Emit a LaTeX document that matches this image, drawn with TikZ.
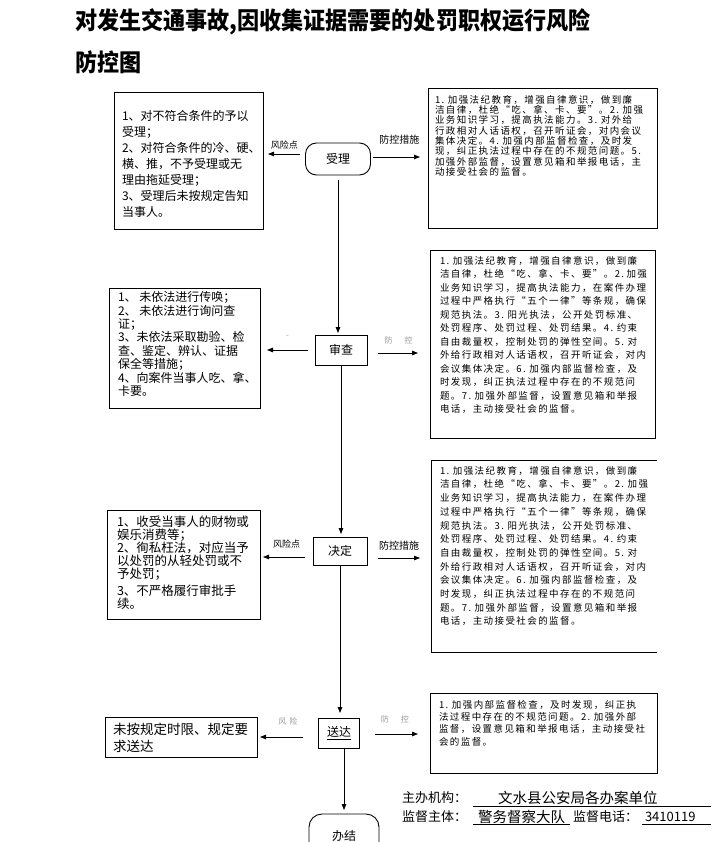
\documentclass[tikz,border=0pt]{standalone}
\usepackage{fontspec}
\usepackage{graphicx}
\setmainfont{Noto Sans CJK SC}
\newfontfamily\ctrlfont{Noto Sans CJK SC}[LetterSpace=15]
\usetikzlibrary{arrows.meta}
\newcommand{\boxtxt}[4]{\parbox[t][#1][t]{#2}{\vspace*{#3}\raggedright #4}}

\begin{document}
\begin{tikzpicture}[x=1pt,y=-1pt,>={Triangle[length=6pt,width=4.5pt]},
  every node/.style={inner sep=0pt,outer sep=0pt},
  riskbox/.style={draw,line width=0.9pt,anchor=north west,inner ysep=0pt},
  openbox/.style={anchor=north west,inner ysep=0pt},
  stepbox/.style={draw,line width=0.9pt,font=\fontsize{12}{14}\selectfont},
  endbox/.style={stepbox,rounded corners=11pt},
  flow/.style={->,line width=0.8pt},
  lbl/.style={font=\fontsize{9}{10}\selectfont},
  faint/.style={text=black!40,font=\fontsize{8}{9}\selectfont},
  foot/.style={font=\fontsize{13}{15}\selectfont}]
  \useasboundingbox (0,0) rectangle (720,842);
  % title
  \node[anchor=west,font=\fontsize{24}{28}\selectfont\bfseries] (title) at (75,22)
        {\scalebox{0.92}[1]{对发生交通事故,因收集证据需要的处罚职权运行风险}};
  \node[anchor=west,font=\fontsize{24}{28}\selectfont\bfseries] (title2) at (75,62)
        {\scalebox{0.92}[1]{防控图}};
  % steps of the procedure
  \node[endbox,minimum width=65pt,minimum height=32pt] (s1) at (338,159) {受理};
  \node[stepbox,minimum width=52pt,minimum height=30pt] (s2) at (341,350) {审查};
  \node[stepbox,minimum width=54pt,minimum height=28pt] (s3) at (340,551) {决定};
  \node[stepbox,minimum width=41pt,minimum height=30pt] (s4) at (339,733) {\underline{送达}};
  \node[endbox,minimum width=70pt,minimum height=44pt,rounded corners=13pt] (s5) at (344,836) {办结};
  % risk points
  \node[riskbox,inner xsep=8pt,font=\fontsize{12}{16}\selectfont] (r1) at (114,92)
        {\boxtxt{137pt}{133pt}{18.6pt}{1、对不符合条件的予以\\受理；\\2、对符合条件的冷、硬、\\横、推，不予受理或无\\理由拖延受理；\\3、受理后未按规定告知\\当事人。}};
  \node[riskbox,inner xsep=9pt,font=\fontsize{12}{13.4}\selectfont] (r2) at (109,288)
        {\boxtxt{120pt}{133pt}{3.6pt}{1、 未依法进行传唤；\\2、 未依法进行询问查\\证；\\3、未依法采取勘验、检\\查、鉴定、辨认、证据\\保全等措施；\\4、向案件当事人吃、拿、\\卡要。}};
  \node[riskbox,inner xsep=10pt,font=\fontsize{12.5}{12.8}\selectfont] (r3) at (107,510)
        {\boxtxt{109pt}{133pt}{6.4pt}{1、收受当事人的财物或\\娱乐消费等；\\2、徇私枉法，对应当予\\以处罚的从轻处罚或不\\予处罚；\\[5pt]3、不严格履行审批手\\续。}};
  \node[riskbox,inner xsep=8pt,font=\fontsize{13.5}{17}\selectfont] (r4) at (105,717)
        {\boxtxt{40pt}{136pt}{5.8pt}{未按规定时限、规定要\\求送达}};
  % control measures
  \node[riskbox,inner xsep=7pt,font=\ctrlfont\fontsize{9.5}{10.3}\selectfont] (c1) at (428,88)
        {\boxtxt{140pt}{215pt}{7.2pt}{1.~加强法纪教育，增强自律意识，做到廉\\洁自律，杜绝“吃、拿、卡、要”。2.~加强\\业务知识学习，提高执法能力。3.~对外给\\行政相对人话语权，召开听证会，对内会议\\集体决定。4.~加强内部监督检查，及时发\\现，纠正执法过程中存在的不规范问题。5.\\加强外部监督，设置意见箱和举报电话，主\\动接受社会的监督。}};
  \node[riskbox,inner xsep=10pt,font=\ctrlfont\fontsize{9.5}{13.5}\selectfont] (c2) at (430,250)
        {\boxtxt{188pt}{205pt}{6.2pt}{1.~加强法纪教育，增强自律意识，做到廉\\洁自律，杜绝“吃、拿、卡、要”。2.~加强\\业务知识学习，提高执法能力，在案件办理\\过程中严格执行“五个一律”等条规，确保\\规范执法。3.~阳光执法，公开处罚标准、\\处罚程序、处罚过程、处罚结果。4.~约束\\自由裁量权，控制处罚的弹性空间。5.~对\\外给行政相对人话语权，召开听证会，对内\\会议集体决定。6.~加强内部监督检查，及\\时发现，纠正执法过程中存在的不规范问\\题。7.~加强外部监督，设置意见箱和举报\\电话，主动接受社会的监督。}};
  \node[openbox,inner xsep=9pt,font=\ctrlfont\fontsize{9.5}{13.7}\selectfont] (c3) at (431,460)
        {\boxtxt{192pt}{208pt}{6.2pt}{1.~加强法纪教育，增强自律意识，做到廉\\洁自律，杜绝“吃、拿、卡、要”。2.~加强\\业务知识学习，提高执法能力，在案件办理\\过程中严格执行“五个一律”等条规，确保\\规范执法。3.~阳光执法，公开处罚标准、\\处罚程序、处罚过程、处罚结果。4.~约束\\自由裁量权，控制处罚的弹性空间。5.~对\\外给行政相对人话语权，召开听证会，对内\\会议集体决定。6.~加强内部监督检查，及\\时发现，纠正执法过程中存在的不规范问\\题。7.~加强外部监督，设置意见箱和举报\\电话，主动接受社会的监督。}};
  \draw[line width=0.9pt] (c3.north east) -- (c3.north west) -- (c3.south west) -- (c3.south east);
  \node[riskbox,inner xsep=9pt,font=\ctrlfont\fontsize{9.5}{12.3}\selectfont] (c4) at (430,693)
        {\boxtxt{80pt}{209pt}{7.2pt}{1.~加强内部监督检查，及时发现，纠正执\\法过程中存在的不规范问题。2.~加强外部\\监督，设置意见箱和举报电话，主动接受社\\会的监督。}};
  % main flow
  \draw[flow,shorten <=5pt,shorten >=2pt] (s1.south) -- (s1.south |- s2.north);
  \draw[flow,shorten >=3pt] (s2.south) -- (s2.south |- s3.north);
  \draw[flow,shorten >=5pt] (s3.south) -- (s3.south |- s4.north);
  \draw[flow,shorten >=4pt] (s4.south -| s5.north) -- (s5.north);
  % risk / control arrows
  \draw[flow,shorten <=5.5pt,shorten >=5pt] ([yshift=5pt]s1.west) -- ([yshift=5pt]s1.west -| r1.east)
        node[lbl,midway,above=4.5pt] (l1) {风险点};
  \draw[flow,shorten <=2.5pt,shorten >=8pt] ([yshift=2pt]s1.east) -- ([yshift=2pt]s1.east -| c1.west)
        node[lbl,midway,above=13pt,font=\fontsize{10}{11}\selectfont] (m1) {防控措施};
  \draw[flow,shorten <=7pt,shorten >=7pt] (s2.west) -- (s2.west -| r2.east)
        node[faint,midway,above=12pt] (l2) {-};
  \draw[flow,shorten <=11pt,shorten >=12pt] ([yshift=-3pt]s2.east) -- ([yshift=-3pt]s2.east -| c2.west)
        node[faint,midway,above=9pt] (m2) {防\hspace{12pt}控};
  \draw[flow,shorten <=8pt,shorten >=3pt] ([yshift=-6pt]s3.west) -- ([yshift=-6pt]s3.west -| r3.east)
        node[lbl,midway,above=8.5pt] (l3) {风险点};
  \draw[flow,shorten <=11pt,shorten >=11pt] ([yshift=-7pt]s3.east) -- ([yshift=-7pt]s3.east -| c3.west)
        node[lbl,midway,above=7.5pt,font=\fontsize{10}{11}\selectfont] (m3) {防控措施};
  \draw[flow,shorten <=15.5pt,shorten >=3pt] ([yshift=-4pt]s4.west) -- ([yshift=-4pt]s4.west -| r4.east)
        node[faint,midway,above=12pt] (l4) {风\hspace{3pt}险};
  \draw[flow,shorten <=15.5pt,shorten >=12pt] ([yshift=-1pt]s4.east) -- ([yshift=-1pt]s4.east -| c4.west)
        node[faint,midway,above=11pt] (m4) {防\hspace{12pt}控};
  % footer
  \node[foot,anchor=west] (host) at (402,798) {主办机构：};
  \node[anchor=west,font=\fontsize{14.5}{16}\selectfont,minimum height=16pt,text width=238pt,align=left]
        (hostname) at (473,798) {\hspace*{25pt}文水县公安局各办案单位};
  \draw[line width=0.7pt] (hostname.south west) -- (hostname.south east);
  \node[foot,anchor=west] (sup) at (402,817) {监督主体：};
  \node[anchor=west,font=\fontsize{14.5}{16}\selectfont,minimum width=97pt,minimum height=14pt]
        (supname) at (473,817) {警务督察大队};
  \draw[line width=0.7pt] (supname.south west) -- (supname.south east);
  \node[foot,anchor=west] (tel) at (573,817) {监督电话：};
  \node[foot,anchor=west,minimum height=14pt,text width=69pt,align=left]
        (telno) at (642,817) {\hspace*{3pt}3410119};
  \draw[line width=0.7pt] (telno.south west) -- (telno.south east);
\end{tikzpicture}
\end{document}
